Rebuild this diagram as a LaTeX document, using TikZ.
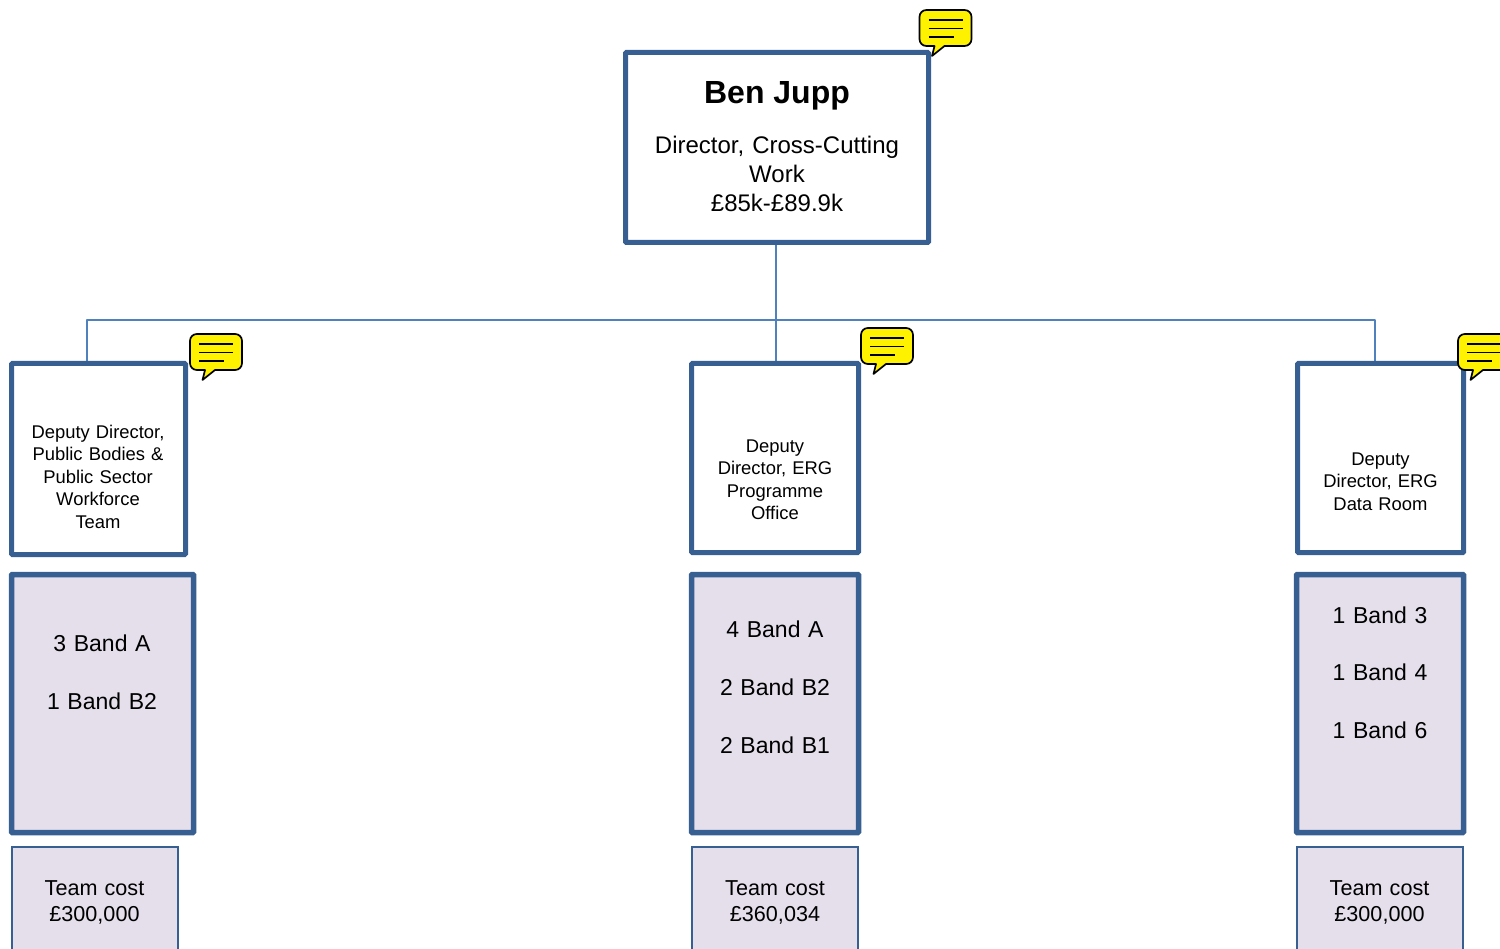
\documentclass[tikz,border=0pt]{standalone}
\usepackage{fontspec}
\setmainfont{Liberation Sans}
\definecolor{boxblue}{HTML}{385F91}
\definecolor{linkblue}{HTML}{4F81BD}
\definecolor{lilac}{HTML}{E5DFEC}
\tikzset{
  headbox/.style={draw=boxblue,line width=5pt,fill=white,rounded corners=0.8pt,inner sep=0pt,minimum width=#1},
  bandbox/.style={draw=boxblue,line width=5.5pt,fill=lilac,rounded corners=0.8pt,inner sep=0pt,minimum width=#1},
  costbox/.style={draw=boxblue,line width=2pt,fill=lilac,inner sep=0pt,minimum width=#1},
  small/.style={align=center,font=\fontsize{18.4}{22.5}\selectfont,inner sep=0pt,text=black},
  big/.style={align=center,font=\fontsize{24}{29}\selectfont,inner sep=0pt,text=black},
  band/.style={align=center,font=\fontsize{23}{29}\selectfont,inner sep=0pt,text=black},
  cost/.style={align=center,font=\fontsize{21.6}{26}\selectfont,inner sep=0pt,text=black},
  link/.style={draw=linkblue,line width=2pt},
  bubble/.style={draw=black,line width=1.7pt,fill=yellow,line join=round},
  bubbleline/.style={draw=black,line width=1.5pt}
}
\newcommand{\bubbleat}[2]{%
  \begin{scope}[shift={(#1,#2)}]
    \path[bubble] (7,0) -- (45,0) .. controls (49,0) and (52,3) .. (52,7) -- (52,29)
      .. controls (52,33) and (49,36) .. (45,36) -- (25,36) -- (12.5,46) -- (15,36) -- (7,36)
      .. controls (3,36) and (0,33) .. (0,29) -- (0,7) .. controls (0,3) and (3,0) .. (7,0) -- cycle;
    \draw[bubbleline] (9,10) -- (43,10);
    \draw[bubbleline] (9,18.5) -- (43,18.5);
    \draw[bubbleline] (9,27) -- (34,27);
  \end{scope}}
\begin{document}
\begin{tikzpicture}[x=1pt,y=-1pt]
\useasboundingbox (0,0) rectangle (1500,949);
\clip (0,0) rectangle (1500,949);
% connectors first
\coordinate (trunkTop) at (775.5,243);
\coordinate (busL) at (87,320);
\coordinate (busC) at (775.5,320);
\coordinate (busR) at (1375,320);
\coordinate (dropL) at (87,362);
\coordinate (dropC) at (775.5,362);
\coordinate (dropR) at (1375,362);
\draw[link] (trunkTop) -- (dropC);
\draw[link,line join=round] (dropL) -- (busL) -- (busR) -- (dropR);
% top box
\node[headbox=303pt,minimum height=190pt] (top) at (777,147.5) {};
\node[font=\bfseries\fontsize{32}{32}\selectfont,inner sep=0pt] (topname) at (777,96) {Ben Jupp};
\node[big,text width=300pt] (toptext) at (777,173.5)
  {Director, Cross-Cutting\\Work\\£85k-£89.9k};
% header boxes
\node[headbox=174pt,minimum height=191pt] (hL) at (98.5,459) {};
\node[small,text width=170pt] (hLt) at (98,476.5)
  {Deputy Director,\\Public Bodies \&\\Public Sector\\Workforce\\Team};
\node[headbox=167pt,minimum height=189pt] (hC) at (775,458) {};
\node[small,text width=160pt] (hCt) at (775,480)
  {Deputy\\Director, ERG\\Programme\\Office};
\node[headbox=166pt,minimum height=189pt] (hR) at (1380.5,458) {};
\node[small,text width=160pt] (hRt) at (1380.5,481.5)
  {Deputy\\Director, ERG\\Data Room};
% band boxes
\node[bandbox=182pt,minimum height=258pt] (bL) at (102.5,703.5) {};
\node[band,text width=170pt] (bLt) at (102,672.5)
  {3 Band A\\[29pt]1 Band B2};
\node[bandbox=167pt,minimum height=258pt] (bC) at (775,703.5) {};
\node[band,text width=160pt] (bCt) at (775,687)
  {4 Band A\\[29pt]2 Band B2\\[29pt]2 Band B1};
\node[bandbox=167pt,minimum height=258pt] (bR) at (1380,703.5) {};
\node[band,text width=160pt] (bRt) at (1380,672.5)
  {1 Band 3\\[28.7pt]1 Band 4\\[28.7pt]1 Band 6};
% cost boxes
\node[costbox=166pt,minimum height=120pt] (cL) at (95,907) {};
\node[cost,text width=160pt] (cLt) at (94.5,902)
  {Team cost\\£300,000};
\node[costbox=166pt,minimum height=120pt] (cC) at (775,907) {};
\node[cost,text width=160pt] (cCt) at (775,902)
  {Team cost\\£360,034};
\node[costbox=166pt,minimum height=120pt] (cR) at (1380,907) {};
\node[cost,text width=160pt] (cRt) at (1379.5,902)
  {Team cost\\£300,000};
% note bubbles
\bubbleat{919.5}{10}
\bubbleat{190}{334}
\bubbleat{861}{328}
\bubbleat{1458}{334}
\end{tikzpicture}
\end{document}
